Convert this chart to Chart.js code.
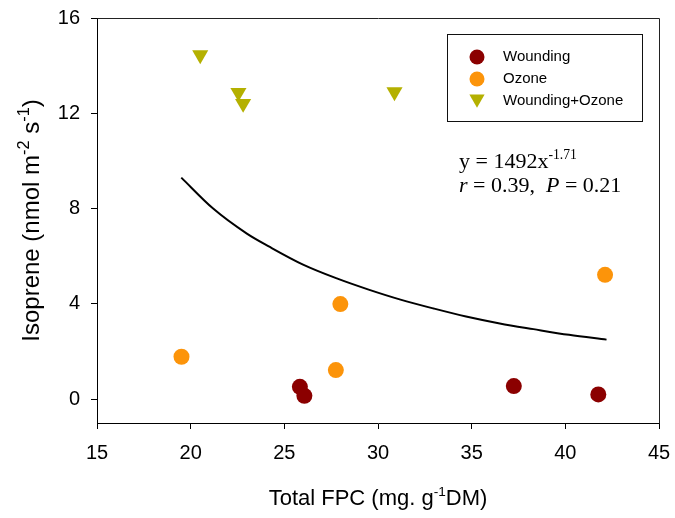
<!DOCTYPE html>
<html>
<head>
<meta charset="utf-8">
<script src="https://cdn.jsdelivr.net/npm/chart.js@4/dist/chart.umd.min.js"></script>
<style>
  html, body { margin: 0; padding: 0; background: #fff; }
  #wrap { width: 675px; height: 518px; }
</style>
</head>
<body>
<div id="wrap"><canvas id="chartIso" width="675" height="518"></canvas></div>
<script>
// ── Datos ────────────────────────────────────────────────────────────────────
var woundX = [25.83, 26.07, 37.25, 41.76];
var woundY = [0.52, 0.14, 0.55, 0.20];
var ozoneX = [19.51, 27.75, 27.99, 42.12];
var ozoneY = [1.78, 1.22, 3.99, 5.22];
var bothX  = [20.51, 22.55, 22.80, 30.88];
var bothY  = [14.45, 12.87, 12.41, 12.90];
// curva de ajuste y = 1492x^-1.71 (puntos leídos sobre la línea)
var fitX = [19.5, 21.2, 23.0, 24.2, 26.0, 27.8, 29.5, 31.2, 33.0, 34.7, 36.5, 38.3, 40.2, 42.2];
var fitY = [9.30, 8.00, 6.95, 6.40, 5.65, 5.07, 4.60, 4.18, 3.80, 3.47, 3.18, 2.94, 2.70, 2.50];
var xTicks = [15, 20, 25, 30, 35, 40, 45];
var yTicks = [0, 4, 8, 12, 16];

var SANS  = '"Liberation Sans", Arial, sans-serif';
var SERIF = '"Liberation Serif", "Times New Roman", serif';

function toPts(xs, ys) {
    return xs.map(function (x, i) { return { x: x, y: ys[i] }; });
}

// texto con superíndices: segmentos [texto, esSup, italica]
function segFont(s, size, fam, supK) {
    return (s[2] ? 'italic ' : '') + (s[1] ? size * supK : size) + 'px ' + fam;
}
function richWidth(ctx, segs, size, fam, supK) {
    var w = 0;
    segs.forEach(function (s) {
        ctx.font = segFont(s, size, fam, supK);
        w += ctx.measureText(s[0]).width;
    });
    return w;
}
function drawRich(ctx, segs, x, y, size, fam, supK) {
    ctx.textAlign = 'left';
    ctx.textBaseline = 'alphabetic';
    segs.forEach(function (s) {
        ctx.font = segFont(s, size, fam, supK);
        ctx.fillText(s[0], x, s[1] ? y - size * 0.42 : y);
        x += ctx.measureText(s[0]).width;
    });
}

var decor = {
    id: 'decor',
    beforeDraw: function (chart) {
        var ctx = chart.ctx;
        ctx.save();
        ctx.fillStyle = '#fff';
        ctx.fillRect(0, 0, chart.width, chart.height);
        ctx.restore();
    },
    afterDatasetsDraw: function (chart) {
        var ctx = chart.ctx, a = chart.chartArea;
        ctx.save();
        ctx.fillStyle = '#000';
        ctx.strokeStyle = '#222';
        ctx.lineWidth = 1;
        // marco superior y derecho
        ctx.beginPath();
        ctx.moveTo(Math.round(a.left) + 0.5, Math.round(a.top) + 0.5);
        ctx.lineTo(Math.round(a.right) + 0.5, Math.round(a.top) + 0.5);
        ctx.lineTo(Math.round(a.right) + 0.5, Math.round(a.bottom) + 0.5);
        ctx.stroke();

        // títulos de ejes
        var xt = [['Total FPC (mg. g', false], ['-1', true], ['DM)', false]];
        var wx = richWidth(ctx, xt, 22, SANS, 0.62);
        drawRich(ctx, xt, (a.left + a.right) / 2 - wx / 2, 505, 22, SANS, 0.62);

        var yt = [['Isoprene (nmol m', false], ['-2', true], [' s', false], ['-1', true], [')', false]];
        var wy = richWidth(ctx, yt, 24, SANS, 0.68);
        ctx.save();
        ctx.translate(39, (a.top + a.bottom) / 2);
        ctx.rotate(-Math.PI / 2);
        drawRich(ctx, yt, -wy / 2, 0, 24, SANS, 0.68);
        ctx.restore();

        // ecuación
        drawRich(ctx, [['y = 1492x', false], ['-1.71', true]], 459, 168, 22, SERIF, 0.62);
        drawRich(ctx, [['r', false, true], [' = 0.39,  ', false], ['P', false, true], [' = 0.21', false]], 459, 192, 22, SERIF, 0.62);

        // leyenda
        ctx.strokeStyle = '#111';
        ctx.strokeRect(447.5, 34.5, 195, 87);
        var rows = [57, 79, 101];
        for (var i = 0; i < 3; i++) {
            var ds = chart.data.datasets[i];
            var tri = ds.pointStyle === 'triangle';
            ctx.fillStyle = ds.backgroundColor;
            ctx.strokeStyle = ds.backgroundColor;
            Chart.helpers.drawPoint(ctx, {
                pointStyle: ds.pointStyle,
                rotation: ds.rotation || 0,
                radius: tri ? 8.8 : 7.5,
                borderWidth: 0
            }, 477, rows[i] - (tri ? 2 : 0));
            ctx.fillStyle = '#000';
            ctx.font = '15px ' + SANS;
            ctx.textBaseline = 'middle';
            ctx.textAlign = 'left';
            ctx.fillText(ds.label, 503, rows[i]);
        }
        ctx.restore();
    }
};

var ctxEl = document.getElementById('chartIso');
new Chart(ctxEl.getContext('2d'), {
    type: 'scatter',
    data: {
        datasets: [
            {
                label: 'Wounding',
                data: toPts(woundX, woundY),
                pointStyle: 'circle',
                backgroundColor: '#8b0000',
                borderColor: '#8b0000',
                borderWidth: 0,
                pointRadius: 8
            },
            {
                label: 'Ozone',
                data: toPts(ozoneX, ozoneY),
                pointStyle: 'circle',
                backgroundColor: '#fc940a',
                borderColor: '#fc940a',
                borderWidth: 0,
                pointRadius: 8
            },
            {
                label: 'Wounding+Ozone',
                data: toPts(bothX, bothY),
                pointStyle: 'triangle',
                rotation: 180,
                backgroundColor: '#b4b000',
                borderColor: '#b4b000',
                borderWidth: 0,
                pointRadius: 9.3
            },
            {
                label: 'fit',
                data: toPts(fitX, fitY),
                showLine: true,
                borderColor: '#000',
                borderWidth: 2,
                pointRadius: 0,
                cubicInterpolationMode: 'monotone',
                fill: false
            }
        ]
    },
    options: {
        responsive: false,
        animation: false,
        events: [],
        layout: { padding: { top: 18, right: 16, left: 0, bottom: 0 } },
        plugins: {
            legend: { display: false },
            tooltip: { enabled: false }
        },
        scales: {
            x: {
                type: 'linear',
                min: 15, max: 45,
                afterBuildTicks: function (s) { s.ticks = xTicks.map(function (v) { return { value: v }; }); },
                afterFit: function (s) { s.height = 95; s.paddingLeft = 0; s.paddingRight = 0; },
                grid: { drawOnChartArea: false, tickLength: 6, color: '#000', tickColor: '#000' },
                border: { color: '#000', width: 1 },
                ticks: { color: '#000', padding: 12, maxRotation: 0, font: { family: SANS, size: 20 } }
            },
            y: {
                type: 'linear',
                min: -1, max: 16,
                afterBuildTicks: function (s) { s.ticks = yTicks.map(function (v) { return { value: v }; }); },
                afterFit: function (s) { s.width = 97; s.paddingTop = 0; s.paddingBottom = 0; },
                grid: { drawOnChartArea: false, tickLength: 6, color: '#000', tickColor: '#000' },
                border: { color: '#000', width: 1 },
                ticks: { color: '#000', padding: 11, font: { family: SANS, size: 20 } }
            }
        }
    },
    plugins: [decor]
});
</script>
</body>
</html>
